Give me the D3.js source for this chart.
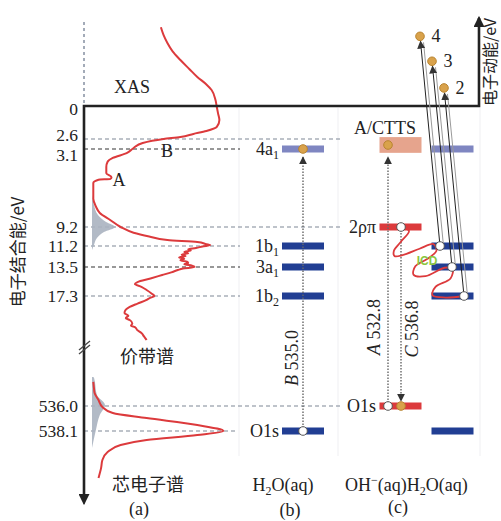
<!DOCTYPE html>
<html>
<head>
<meta charset="utf-8">
<script src="https://cdn.jsdelivr.net/npm/d3@7/dist/d3.min.js"></script>
<style>
  body { margin: 0; background: #fff; }
  svg { display: block; }
</style>
</head>
<body>
<svg id="chart" width="501" height="521"></svg>
<script>
// ---- binding-energy ticks (eV) ----
const valenceTicks = [0, 2.6, 3.1, 9.2, 11.2, 13.5, 17.3];
const coreTicks = [536.0, 538.1];
const valenceTickLabels = ["0", "2.6", "3.1", "9.2", "11.2", "13.5", "17.3"];
const coreTickLabels = ["536.0", "538.1"];

// ---- spectra: [binding energy / eV, intensity / a.u.] ----
const xasSpectrum = [
  [-6.2, 53], [-5.6, 55], [-4.96, 58], [-4.3, 62], [-3.62, 68], [-2.9, 75], [-2.29, 81],
  [-1.7, 88], [-1.26, 92], [-0.47, 95], [0.08, 96], [0.6, 97], [1.1, 98], [1.65, 96],
  [1.97, 88], [2.2, 78], [2.44, 68], [2.6, 55], [2.8, 39], [3.05, 32], [3.41, 27],
  [3.8, 16], [4.1, 12], [4.5, 11], [5.0, 11], [5.3, 15], [5.45, 14], [5.5, 5], [5.76, 1], [6.3, 1]
];
const valenceSpectrum = [
  [7.0, 1], [7.6, 3], [8.1, 6], [8.65, 14], [9.2, 22], [9.8, 32], [10.2, 44],
  [10.57, 58], [10.78, 81], [11.0, 88], [11.1, 91], [11.25, 85], [11.42, 80], [11.55, 74],
  [11.7, 76], [11.85, 71], [12.0, 74], [12.15, 69], [12.3, 72], [12.45, 67], [12.6, 71],
  [12.75, 68], [12.9, 73], [13.05, 74], [13.2, 71], [13.35, 77], [13.5, 79], [13.7, 70],
  [13.9, 66], [14.2, 61], [14.55, 54], [15.0, 45], [15.47, 35], [15.73, 33], [16.1, 38],
  [16.51, 42], [17.0, 46], [17.3, 48], [17.6, 44], [17.82, 42], [18.3, 35], [18.74, 29],
  [19.1, 26], [19.53, 25], [19.9, 28], [20.2, 26], [20.45, 29], [20.9, 31], [21.2, 30],
  [21.37, 33], [21.8, 35], [22.15, 38], [22.6, 40], [23.07, 42]
];
const coreSpectrum = [
  [533.98, 1], [534.5, 1.5], [534.91, 2], [535.5, 5], [536.08, 8], [536.59, 16],
  [537.01, 42], [537.6, 81], [538.1, 101], [538.44, 81], [538.86, 42], [539.28, 22],
  [539.87, 12], [540.54, 8], [541.2, 7], [542.05, 5]
];
// shaded OH- contributions
const valenceShoulder = [
  [6.7, 0], [7.48, 1.5], [8.26, 4.6], [8.81, 10.8], [9.2, 17.7], [9.73, 9.2],
  [10.36, 3.8], [11.09, 1.5], [11.64, 0]
];
const coreShoulder = [
  [533.56, 0], [533.6, 1.5], [535.08, 3.8], [535.92, 10], [536.76, 6], [538.02, 3], [539.53, 0]
];

// ---- orbital levels ----
const waterLevels = [
  { id: "4a1", name: "4a", sub: "1", e: 3.1, empty: true },
  { id: "1b1", name: "1b", sub: "1", e: 11.2 },
  { id: "3a1", name: "3a", sub: "1", e: 13.5 },
  { id: "1b2", name: "1b", sub: "2", e: 17.3 },
  { id: "O1s", name: "O1s", sub: "", e: 538.1 }
];
const hydroxideLevels = [
  { id: "2ppi", name: "2ρπ", e: 9.2 },
  { id: "O1s", name: "O1s", e: 536.0 }
];
const cttsBand = [2.45, 3.4];

// ---- transitions (photon energies / eV) ----
const transitions = [
  { letter: "B", value: "535.0" },
  { letter: "A", value: "532.8" },
  { letter: "C", value: "536.8" }
];

// ---- electrons emitted by ICD: source orbital, kinetic energy (a.u.) ----
const emitted = [
  { label: "4", from: "1b1", ke: 8.1 },
  { label: "3", from: "3a1", ke: 5.2 },
  { label: "2", from: "1b2", ke: 2.1 }
];

// ICD path: [offset from water bar centre / px, binding energy / eV]
const icdPath = [
  [-51.5, 9.2], [-43.5, 9.6], [-52, 10.8], [-58.5, 11.7], [-58, 12.3], [-50, 12.2],
  [-33, 11.5], [-19, 11.0], [-16, 11.7], [-25, 12.6], [-37, 13.4], [-39, 14.5],
  [-27, 14.7], [-8, 13.6], [0, 13.7], [-2, 15.0], [-17, 16.1], [-20, 17.2],
  [-7, 17.5], [11.5, 17.3]
];

// ================= drawing =================
const svg = d3.select("#chart");
const serif = "'Liberation Serif', 'DejaVu Serif', serif";
const cjk = "'Noto Sans CJK SC', 'Noto Sans', sans-serif";
const ink = "#222";
const red = "#dc3a3c";
const darkBlue = "#213e93";
const lightBlue = "#7f86c1";
const grayDash = "#7e8896";

const axisX = 84, axisTop = 106, axisBottom = 500, topRight = 479;
const yVal = d3.scaleLinear().domain(valenceTicks).range([106, 139, 149, 227, 246, 267, 296]);
const yCore = d3.scaleLinear().domain(coreTicks).range([406, 431]);
const yE = e => (e > 100 ? yCore(e) : yVal(e));
const yKin = d3.scaleLinear().domain([0, 10]).range([axisTop, 20]);
const xInt = d3.scaleLinear().domain([0, 100]).range([92, 222]);

// markers
const defs = svg.append("defs");
function marker(id, color, size) {
  defs.append("marker").attr("id", id).attr("viewBox", "0 0 10 10")
    .attr("refX", 9).attr("refY", 5).attr("markerWidth", size).attr("markerHeight", size)
    .attr("markerUnits", "userSpaceOnUse").attr("orient", "auto")
    .append("path").attr("d", "M0,0L10,5L0,10z").attr("fill", color);
}
marker("arrowBig", ink, 11);
marker("arrowSmall", "#333", 8);

// faint panel separators
[239, 338, 480].forEach(x => {
  svg.append("line").attr("x1", x).attr("x2", x).attr("y1", axisTop + 2).attr("y2", 456)
    .attr("stroke", "#efeff2").attr("stroke-width", 1);
});

// panel centres (bars are 42px wide)
const half = 21;
const cxB = 303, cxOH = 400.5, cxW = 452.5;

// guide lines at each binding energy
const guides = [
  { e: 2.6, x2: 340, c: grayDash },
  { e: 3.1, x2: 240, c: "#333" },
  { e: 9.2, x2: 340, c: grayDash },
  { e: 11.2, x2: 240, c: grayDash },
  { e: 13.5, x2: 240, c: "#333" },
  { e: 17.3, x2: 240, c: grayDash },
  { e: 536.0, x2: 340, c: grayDash },
  { e: 538.1, x2: 238, c: grayDash }
];
svg.append("g").selectAll("line").data(guides).join("line")
  .attr("x1", axisX).attr("x2", d => d.x2)
  .attr("y1", d => yE(d.e)).attr("y2", d => yE(d.e))
  .attr("stroke", d => d.c).attr("stroke-width", 1.2).attr("stroke-dasharray", "4,3");

// shaded shoulders
const area = d3.area().y(d => yE(d[0])).x0(xInt(0)).x1(d => xInt(d[1])).curve(d3.curveMonotoneY);
[valenceShoulder, coreShoulder].forEach(s => {
  svg.append("path").datum(s).attr("d", area).attr("fill", "#aab3c0").attr("opacity", 0.9);
});

// spectra (XAS runs continuously into the valence band)
const specLine = d3.line().x(d => xInt(d[1])).y(d => yE(d[0])).curve(d3.curveMonotoneY);
[xasSpectrum.concat(valenceSpectrum), coreSpectrum].forEach(s => {
  svg.append("path").datum(s).attr("d", specLine)
    .attr("fill", "none").attr("stroke", red).attr("stroke-width", 2);
});

// axes frame
svg.append("line").attr("x1", axisX).attr("x2", axisX).attr("y1", 22).attr("y2", axisTop - 2)
  .attr("stroke", "#a3abb8").attr("stroke-width", 2).attr("stroke-dasharray", "3,3");
svg.append("path")
  .attr("d", `M${axisX},${axisBottom - 2}V${axisTop}H${topRight}V${18}`)
  .attr("fill", "none").attr("stroke", ink).attr("stroke-width", 2.6)
  .attr("stroke-linejoin", "miter");
svg.append("line").attr("x1", topRight).attr("x2", topRight).attr("y1", 30).attr("y2", 17)
  .attr("stroke", ink).attr("stroke-width", 1).attr("marker-end", "url(#arrowBig)");
svg.append("line").attr("x1", axisX).attr("x2", axisX).attr("y1", 490).attr("y2", 504)
  .attr("stroke", ink).attr("stroke-width", 1).attr("marker-end", "url(#arrowBig)");
// axis break
[0, 4].forEach(o => {
  svg.append("line").attr("x1", 79).attr("y1", 354 - o).attr("x2", 90).attr("y2", 345 - o)
    .attr("stroke", "#444").attr("stroke-width", 1.3);
});

// tick labels
function tickAxis(scale, values, labels) {
  const g = svg.append("g").attr("transform", `translate(${axisX},0)`)
    .call(d3.axisLeft(scale).tickValues(values).tickSize(0).tickPadding(6)
      .tickFormat((d, i) => labels[i]));
  g.select(".domain").remove();
  g.selectAll("text").attr("font-family", serif).attr("font-size", 17.5).attr("fill", ink);
  return g;
}
const gv = tickAxis(yVal, valenceTicks, valenceTickLabels);
// 2.6 and 3.1 sit close together: nudge them apart
gv.selectAll("text").attr("dy", d => d === 2.6 ? "0.09em" : d === 3.1 ? "0.63em" : d === 0 ? "0.47em" : "0.32em");
tickAxis(yCore, coreTicks, coreTickLabels);

// axis titles
svg.append("text").attr("transform", `translate(24,252) rotate(-90)`)
  .attr("text-anchor", "middle").attr("font-family", cjk).attr("font-size", 17).attr("fill", ink)
  .text("电子结合能/eV");
svg.append("text").attr("transform", `translate(496,62) rotate(-90)`)
  .attr("text-anchor", "middle").attr("font-family", cjk).attr("font-size", 16).attr("fill", ink)
  .text("电子动能/eV");

// spectrum labels
const txt = (x, y, s, opts = {}) => svg.append("text").attr("x", x).attr("y", y)
  .attr("font-family", opts.family || serif).attr("font-size", opts.size || 18)
  .attr("text-anchor", opts.anchor || "middle").attr("fill", opts.fill || ink)
  .attr("font-style", opts.italic ? "italic" : null).text(s);
txt(132, 93, "XAS");
txt(119, 186, "A");
txt(167, 157, "B");
txt(147, 363, "价带谱", { family: cjk });
txt(148, 491, "芯电子谱", { family: cjk });
txt(139, 515, "(a)");
txt(290, 516, "(b)");
txt(398, 513, "(c)");

// compound labels with subscripts
function richLabel(x, y, parts, anchor) {
  const t = svg.append("text").attr("x", x).attr("y", y).attr("font-family", serif)
    .attr("font-size", 18).attr("fill", ink).attr("text-anchor", anchor || "middle");
  parts.forEach(p => {
    const s = t.append("tspan").text(p.t);
    if (p.sub) s.attr("font-size", 12).attr("dy", 4);
    else if (p.sup) s.attr("font-size", 12).attr("dy", -7);
    else if (p.back) s.attr("dy", p.back);
  });
  return t;
}
richLabel(283, 491, [{ t: "H" }, { t: "2", sub: true }, { t: "O(aq)", back: -4 }]);
richLabel(345, 491, [{ t: "OH" }, { t: "−", sup: true }, { t: "(aq)", back: 7 }, { t: "H" },
  { t: "2", sub: true }, { t: "O(aq)", back: -4 }], "start");

// ---- orbital bars ----
function bar(cx, e, color) {
  svg.append("rect").attr("x", cx - half).attr("y", yE(e) - 3.5)
    .attr("width", 2 * half).attr("height", 7).attr("fill", color);
}
function levelName(x, d) {
  const t = svg.append("text").attr("x", x).attr("y", yE(d.e) + 6).attr("font-family", serif)
    .attr("font-size", 18).attr("fill", ink).attr("text-anchor", "end");
  t.append("tspan").text(d.name);
  if (d.sub) t.append("tspan").text(d.sub).attr("font-size", 12).attr("dy", 4);
}
// H2O (b)
waterLevels.forEach(d => { bar(cxB, d.e, d.empty ? lightBlue : darkBlue); levelName(279, d); });
// OH- (c)
svg.append("rect").attr("x", cxOH - half).attr("y", yVal(cttsBand[0]))
  .attr("width", 2 * half).attr("height", yVal(cttsBand[1]) - yVal(cttsBand[0]))
  .attr("fill", "#e6a48d");
txt(385, 134, "A/CTTS");
hydroxideLevels.forEach(d => { bar(cxOH, d.e, red); levelName(376, d); });
// H2O (c)
waterLevels.forEach(d => bar(cxW, d.e, d.empty ? lightBlue : darkBlue));

// ---- transitions ----
const dotted = { stroke: "#666", width: 1.4, dash: "1.6,1.4" };
function vTrans(x, e0, e1, label, lx, ly) {
  svg.append("line").attr("x1", x).attr("x2", x).attr("y1", yE(e0))
    .attr("y2", yE(e1) + (yE(e1) < yE(e0) ? 8 : -5))
    .attr("stroke", dotted.stroke).attr("stroke-width", dotted.width)
    .attr("stroke-dasharray", dotted.dash).attr("marker-end", "url(#arrowSmall)");
  const t = svg.append("text").attr("transform", `translate(${lx},${ly}) rotate(-90)`)
    .attr("text-anchor", "middle").attr("font-family", serif).attr("font-size", 18).attr("fill", ink);
  t.append("tspan").text(label.letter).attr("font-style", "italic");
  t.append("tspan").text(" " + label.value);
}
vTrans(cxB, 538.1, 3.1, transitions[0], 298, 358);
vTrans(cxOH - 12.5, 536.0, 3.1, transitions[1], 380, 327);
vTrans(cxOH + 0.5, 9.2, 536.0, transitions[2], 418, 329);

// ---- ICD squiggle ----
svg.append("path").datum(icdPath)
  .attr("d", d3.line().x(d => cxW + d[0]).y(d => yE(d[1])).curve(d3.curveCatmullRom))
  .attr("fill", "none").attr("stroke", red).attr("stroke-width", 1.8);
txt(427, 265, "ICD", { family: "'Liberation Sans', sans-serif", size: 12, fill: "#8cc63f" })
  .attr("font-weight", "bold");

// ---- emitted electrons ----
const holeX = { "1b1": cxW - 12.5, "3a1": cxW - 0.5, "1b2": cxW + 11.5 };
const levelE = Object.fromEntries(waterLevels.map(d => [d.id, d.e]));
emitted.forEach(d => {
  const x0 = holeX[d.from], y0 = yE(levelE[d.from]);
  const x1 = x0 - 20, y1 = yKin(d.ke);
  svg.append("line").attr("x1", x0 + 3.5).attr("y1", y0).attr("x2", x1 + 3.5).attr("y2", y1 + 6)
    .attr("stroke", "#9a9a9a").attr("stroke-width", 1);
  svg.append("line").attr("x1", x0).attr("y1", y0).attr("x2", x1 + 0.5).attr("y2", y1 + 5)
    .attr("stroke", "#222").attr("stroke-width", 1).attr("marker-end", "url(#arrowSmall)");
  svg.append("circle").attr("cx", x1).attr("cy", y1).attr("r", 4.3)
    .attr("fill", "#d9a24b").attr("stroke", "#b98430").attr("stroke-width", 1);
  txt(x1 + 16, y1 + 6, d.label);
});

// ---- holes (white) and electrons (orange) on levels ----
const holes = [
  [cxB, 538.1], [cxOH - 12.5, 536.0], [cxOH + 0.5, 9.2],
  [holeX["1b1"], 11.2], [holeX["3a1"], 13.5], [holeX["1b2"], 17.3]
];
const electrons = [[cxB, 3.1], [cxOH - 12.5, 2.9], [cxOH + 0.5, 536.0]];
svg.append("g").selectAll("circle").data(holes).join("circle")
  .attr("cx", d => d[0]).attr("cy", d => yE(d[1])).attr("r", 4.3)
  .attr("fill", "#fff").attr("stroke", "#555").attr("stroke-width", 1);
svg.append("g").selectAll("circle").data(electrons).join("circle")
  .attr("cx", d => d[0]).attr("cy", d => yE(d[1])).attr("r", 4.3)
  .attr("fill", "#d9a24b").attr("stroke", "#b98430").attr("stroke-width", 1);
</script>
</body>
</html>
